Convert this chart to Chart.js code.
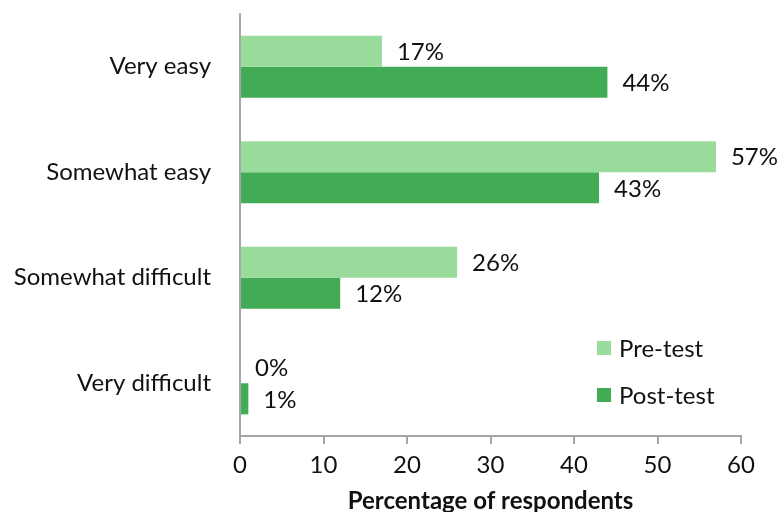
<!DOCTYPE html>
<html>
<head>
<meta charset="utf-8">
<script src="https://cdn.jsdelivr.net/npm/chart.js@4"></script>
<style>
  html, body { margin: 0; padding: 0; background: #fff; }
  #wrap { width: 780px; height: 512px; }
</style>
</head>
<body>
<div id="wrap"><canvas id="myChart" width="780" height="512"></canvas></div>
<script>
const categories = ["Very easy", "Somewhat easy", "Somewhat difficult", "Very difficult"];
const preTest = [17, 57, 26, 0];
const postTest = [44, 43, 12, 1];
const seriesNames = ["Pre-test", "Post-test"];
const xTicks = [0, 10, 20, 30, 40, 50, 60];

const FONT = "Lato, 'Liberation Sans', sans-serif";
const FSIZE = 24;
const AXIS_GRAY = "#a6a6a6";

// value labels right of each bar
const valueLabels = {
    id: "valueLabels",
    afterDatasetsDraw(chart) {
        const c = chart.ctx;
        c.save();
        c.font = FSIZE + "px " + FONT;
        c.fillStyle = "#111";
        c.textBaseline = "middle";
        chart.data.datasets.forEach((ds, i) => {
            chart.getDatasetMeta(i).data.forEach((bar, j) => {
                c.fillText(ds.data[j] + "%", bar.x + 15, bar.y + 1);
            });
        });
        c.restore();
    }
};

// legend inside plot, bottom right
const innerLegend = {
    id: "innerLegend",
    afterDraw(chart) {
        const c = chart.ctx;
        c.save();
        c.font = FSIZE + "px " + FONT;
        c.textBaseline = "middle";
        chart.data.datasets.forEach((ds, i) => {
            const y = 348 + i * 47;
            c.fillStyle = ds.backgroundColor;
            c.fillRect(597, y - 7, 14, 14);
            c.fillStyle = "#111";
            c.fillText(ds.label, 619, y + 1);
        });
        c.restore();
    }
};

const ctx = document.getElementById("myChart");

new Chart(ctx, {
    type: "bar",
    data: {
        labels: categories,
        datasets: [
            { label: seriesNames[0], data: preTest, backgroundColor: "#98db9b" },
            { label: seriesNames[1], data: postTest, backgroundColor: "#41ab56" }
        ]
    },
    options: {
        indexAxis: "y",
        responsive: false,
        animation: false,
        layout: { padding: { left: 0, right: 39, top: 14, bottom: 0 } },
        categoryPercentage: 0.59,
        barPercentage: 1,
        plugins: {
            legend: { display: false },
            tooltip: { enabled: false }
        },
        scales: {
            x: {
                min: 0,
                max: 60,
                afterBuildTicks(scale) {
                    scale.ticks = xTicks.map(v => ({ value: v }));
                },
                afterFit(scale) {
                    scale.height = 76;
                    scale.paddingLeft = 0;
                    scale.paddingRight = 0;
                },
                grid: {
                    display: true,
                    drawOnChartArea: false,
                    drawTicks: true,
                    tickLength: 8,
                    color: AXIS_GRAY,
                    lineWidth: 2
                },
                border: { display: true, color: AXIS_GRAY, width: 2 },
                ticks: { color: "#111", font: { family: FONT, size: FSIZE }, padding: 7 },
                title: {
                    display: true,
                    text: "Percentage of respondents",
                    color: "#111",
                    font: { family: FONT, size: FSIZE, weight: "bold" },
                    padding: { top: 0, bottom: -4 }
                }
            },
            y: {
                afterFit(scale) {
                    scale.width = 240;
                    scale.paddingTop = 0;
                    scale.paddingBottom = 0;
                },
                grid: { display: false, drawTicks: false },
                border: { display: true, color: AXIS_GRAY, width: 2 },
                ticks: { color: "#111", font: { family: FONT, size: FSIZE }, padding: 29 }
            }
        }
    },
    plugins: [valueLabels, innerLegend]
});
</script>
</body>
</html>
